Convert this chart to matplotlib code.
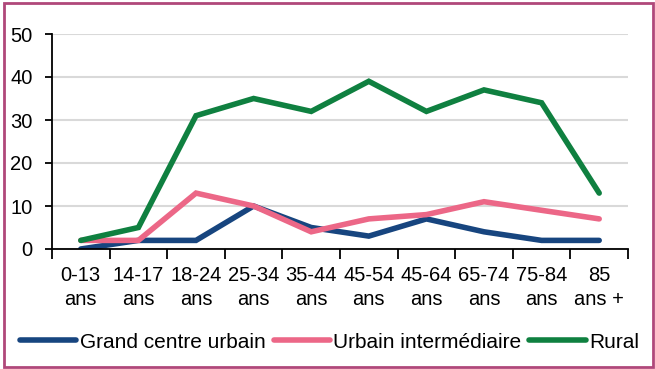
import matplotlib
matplotlib.use('Agg')
import matplotlib.pyplot as plt
import numpy as np
from matplotlib.patches import Rectangle

plt.rcParams['font.family'] = ['Liberation Sans', 'DejaVu Sans']

categories = ['0-13\nans', '14-17\nans', '18-24\nans', '25-34\nans', '35-44\nans',
              '45-54\nans', '45-64\nans', '65-74\nans', '75-84\nans', '85\nans +']
grand_centre = [0, 2, 2, 10, 5, 3, 7, 4, 2, 2]
urbain_inter = [2, 2, 13, 10, 4, 7, 8, 11, 9, 7]
rural = [2, 5, 31, 35, 32, 39, 32, 37, 34, 13]

series = [
    ('Grand centre urbain', grand_centre, '#17457f'),
    ('Urbain intermédiaire', urbain_inter, '#ec6787'),
    ('Rural', rural, '#0f8040'),
]

W, H = 655, 369
fig = plt.figure(figsize=(W / 100, H / 100), dpi=100)
ax = fig.add_axes([52 / W, 1 - 249 / H, (628 - 52) / W, (249 - 34) / H])

x = np.arange(len(categories))
for name, vals, color in series:
    ax.plot(x, vals, color=color, linewidth=4, label=name, solid_capstyle='round',
            solid_joinstyle='miter')

ax.set_xlim(-0.5, len(categories) - 0.5)
ax.set_ylim(0, 50)
ax.set_yticks(range(0, 51, 10))
ax.set_xticks(np.arange(-0.5, len(categories), 1))
ax.set_xticklabels([])
ax.set_xticks(x, minor=True)
ax.set_xticklabels(categories, minor=True, fontsize=14.5, linespacing=1.35)
ax.tick_params(axis='x', which='minor', length=0, pad=12)
ax.tick_params(axis='x', which='major', length=7, width=1.3, direction='out', color='black')
ax.tick_params(axis='y', length=5, width=1.3, direction='out', labelsize=14.5, pad=9)

ax.yaxis.grid(True, color='#d9d9d9', linewidth=1.5)
ax.set_axisbelow(True)
for s in ['top', 'right']:
    ax.spines[s].set_visible(False)
ax.spines['left'].set_linewidth(1.3)
ax.spines['bottom'].set_linewidth(1.3)

fig.legend(loc='center', bbox_to_anchor=(0.503, 1 - 342 / H), ncol=3,
           frameon=False, fontsize=15, handlelength=2.7, handletextpad=0.15,
           columnspacing=0.4)

fig.patches.append(Rectangle((4 / W, 2 / H), 649 / W, 364 / H, transform=fig.transFigure,
                             fill=False, edgecolor='#b0487a', linewidth=2))

fig.savefig('out.png', dpi=100)
